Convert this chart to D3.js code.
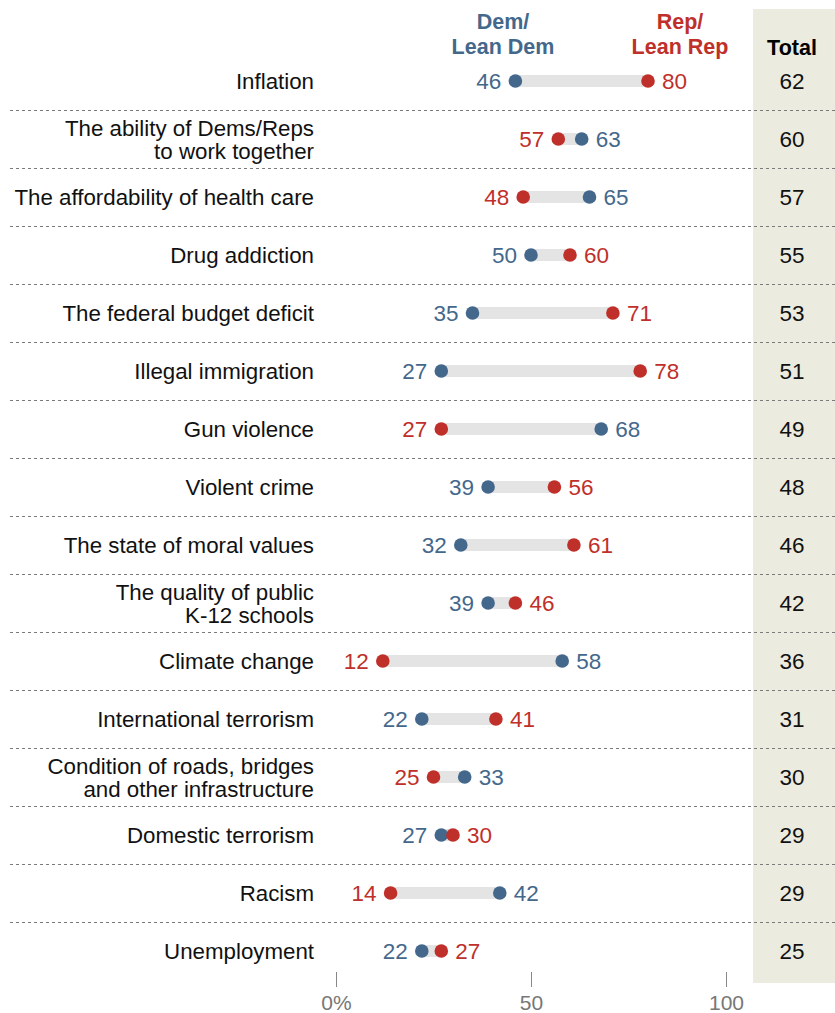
<!DOCTYPE html>
<html><head><meta charset="utf-8">
<script src="https://cdn.jsdelivr.net/npm/d3@7"></script>
<style>body{margin:0;background:#fff}svg{display:block}text{font-family:"Liberation Sans",Arial,sans-serif}</style>
</head><body><svg id="c" width="835" height="1013"></svg>
<script>
const categories = ["Inflation","The ability of Dems/Reps|to work together","The affordability of health care","Drug addiction","The federal budget deficit","Illegal immigration","Gun violence","Violent crime","The state of moral values","The quality of public|K-12 schools","Climate change","International terrorism","Condition of roads, bridges|and other infrastructure","Domestic terrorism","Racism","Unemployment"];
const demValues = [46,63,65,50,35,27,68,39,32,39,58,22,33,27,42,22];
const repValues = [80,57,48,60,71,78,27,56,61,46,12,41,25,30,14,27];
const totalValues = [62,60,57,55,53,51,49,48,46,42,36,31,30,29,29,25];
const axisTicks = [0,50,100];
const tickLabels = ["0%","50","100"];

const DEM="#44688c", REP="#c0302a";
const svg=d3.select("#c");
const x=d3.scaleLinear().domain([0,100]).range([336,726]);
const y=d3.scalePoint().domain(categories).range([81,81+58*(categories.length-1)]);

// total column background
svg.append("rect").attr("x",753).attr("y",9).attr("width",82).attr("height",974).attr("fill","#ecebdf");

// dashed separators
categories.slice(0,-1).forEach(c=>{
  svg.append("line").attr("x1",10).attr("x2",835).attr("y1",y(c)+29.5).attr("y2",y(c)+29.5)
   .attr("stroke","#7a7a7a").attr("stroke-width",1.2).attr("stroke-dasharray","3,3");
});

// headers
const hdr=svg.append("g").attr("font-weight","bold").attr("font-size",21.5).attr("text-anchor","middle");
hdr.append("text").attr("x",503).attr("y",29).attr("fill",DEM).text("Dem/");
hdr.append("text").attr("x",503).attr("y",54).attr("fill",DEM).text("Lean Dem");
hdr.append("text").attr("x",680).attr("y",29).attr("fill",REP).text("Rep/");
hdr.append("text").attr("x",680).attr("y",54).attr("fill",REP).text("Lean Rep");
hdr.append("text").attr("x",792).attr("y",55).attr("fill","#000").text("Total");

const rows=svg.append("g").selectAll("g").data(categories).join("g")
  .attr("transform",c=>`translate(0,${y(c)})`);

rows.each(function(c,i){
  const g=d3.select(this);
  const lines=c.split("|");
  const t=g.append("text").attr("x",314).attr("text-anchor","end").attr("font-size",22.3).attr("fill","#111");
  lines.forEach((l,j)=>{
    t.append("tspan").attr("x",314).attr("y",(j-(lines.length-1)/2)*23).attr("dy","0.36em").text(l);
  });
  const d=demValues[i], r=repValues[i];
  const lo=Math.min(d,r), hi=Math.max(d,r);
  g.append("rect").attr("x",x(lo)).attr("width",x(hi)-x(lo)).attr("y",-6).attr("height",12).attr("fill","#e4e4e4");
  const pts=[{v:d,c:DEM},{v:r,c:REP}];
  pts.forEach(p=>{
    g.append("circle").attr("cx",x(p.v)).attr("cy",0).attr("r",6.8).attr("fill",p.c);
    const left = p.v===lo && !(d===r && p.c===REP);
    g.append("text").attr("x",left?x(p.v)-14:x(p.v)+14).attr("y",0).attr("dy","0.36em")
      .attr("text-anchor",left?"end":"start").attr("font-size",22.5).attr("fill",p.c).text(p.v);
  });
  g.append("text").attr("x",792).attr("y",0).attr("dy","0.36em").attr("text-anchor","middle")
   .attr("font-size",22.5).attr("fill","#111").text(totalValues[i]);
});

// axis
const ax=svg.append("g").attr("transform","translate(0,972)")
  .call(d3.axisBottom(x).tickValues(axisTicks).tickSize(15).tickPadding(8).tickFormat((v,i)=>tickLabels[i]));
ax.select(".domain").remove();
ax.selectAll("line").attr("stroke","#888");
ax.selectAll("text").attr("font-size",21).attr("fill","#777").attr("font-family","Liberation Sans, Arial, sans-serif");
</script></body></html>
